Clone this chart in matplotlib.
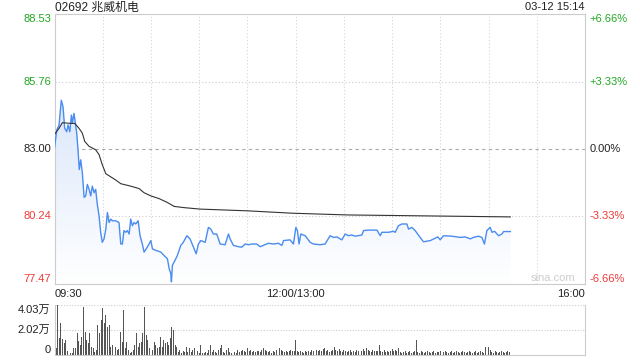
import numpy as np
import matplotlib
matplotlib.use('Agg')
import matplotlib.pyplot as plt
from matplotlib.colors import LinearSegmentedColormap

plt.rcParams['font.family'] = ['Liberation Sans', 'Noto Sans CJK SC']

title = '02692 兆威机电'
stamp = '03-12 15:14'
price_ticks = [77.47, 80.24, 83.00, 85.76, 88.53]
pct_labels = ['-6.66%', '-3.33%', '0.00%', '+3.33%', '+6.66%']
time_labels = ['09:30', '12:00/13:00', '16:00']
time_pos = [0, 150, 330]   # trading minutes from 09:30, lunch removed
vol_ticks = [0, 2.02, 4.03]
vol_labels = ['0', '2.02万', '4.03万']

# price line (minute, price)
price_t = [0, 1.4, 2.8, 4.2, 5.3, 6.3, 7.6, 8.4, 9.5, 10.5,
           11.1, 12.1, 12.8, 13.8, 14.6, 15.4, 16.3, 17.3, 18.4, 19.4,
           20.4, 21.5, 22.5, 23.5, 24.6, 25.6, 26.6, 27.7, 28.7, 29.7,
           30.8, 31.9, 32.9, 33.9, 35.0, 36.0, 38.1, 40.1, 41.2, 42.2,
           43.2, 44.3, 45.3, 46.4, 47.4, 48.4, 49.5, 50.5, 52.0, 53.2,
           54.6, 55.7, 57.7, 59.9, 60.9, 63.0, 66.1, 68.1, 70.2, 71.3,
           72.3, 72.7, 73.3, 74.4, 76.4, 78.5, 80.1, 82.3, 84.3, 86.4,
           88.1, 89.5, 91.0, 93.7, 95.7, 97.2, 98.8, 100.9, 103.0, 106.1,
           108.2, 109.2, 111.3, 114.4, 116.5, 118.5, 120.6, 122.7, 125.8, 127.9,
           133.0, 136.2, 139.3, 141.4, 142.4, 146.5, 148.6, 150.1, 151.1, 152.1,
           153.2, 155.9, 159.0, 161.0, 165.2, 168.3, 171.4, 173.5, 175.6, 178.7,
           180.8, 182.8, 184.9, 187.0, 191.2, 192.2, 195.3, 200.5, 202.6, 203.6,
           207.7, 210.8, 211.9, 213.9, 216.1, 219.2, 220.2, 222.3, 224.3, 227.4,
           229.5, 233.7, 236.8, 238.4, 239.9, 241.9, 247.2, 252.3, 255.4, 258.6,
           260.6, 263.7, 265.8, 267.4, 268.9, 271.0, 272.1, 273.7, 276.2, 278.3,
           279.3, 283.5]
price = [83.05, 83.78, 83.98, 85.00, 84.73, 83.85, 83.71, 83.99, 83.71, 84.39,
         84.06, 84.46, 84.12, 83.66, 82.97, 82.16, 82.56, 82.03, 81.02, 81.08,
         81.55, 81.35, 81.08, 81.48, 81.21, 81.35, 80.74, 80.26, 79.59, 79.18,
         79.32, 79.72, 80.40, 79.99, 80.13, 80.06, 80.06, 79.99, 79.11, 79.11,
         79.66, 79.59, 79.66, 79.52, 80.13, 79.86, 79.99, 79.93, 80.06, 79.45,
         79.11, 78.78, 78.98, 79.25, 78.91, 78.85, 78.78, 78.64, 78.51, 78.10,
         77.90, 77.56, 78.24, 78.37, 78.64, 79.05, 79.18, 79.45, 79.32, 78.98,
         78.71, 79.11, 79.25, 79.18, 79.79, 79.72, 79.52, 79.52, 79.11, 79.08,
         79.52, 79.32, 79.05, 79.00, 78.98, 79.11, 79.08, 79.11, 79.11, 79.00,
         79.14, 79.11, 79.14, 79.05, 79.25, 79.28, 79.11, 79.79, 79.66, 79.11,
         79.52, 79.45, 79.18, 79.11, 79.08, 79.11, 79.45, 79.38, 79.40, 79.28,
         79.52, 79.45, 79.48, 79.43, 79.48, 79.66, 79.68, 79.68, 79.45, 79.59,
         79.59, 79.63, 79.59, 79.86, 79.93, 79.93, 79.72, 79.79, 79.66, 79.38,
         79.20, 79.25, 79.35, 79.40, 79.28, 79.45, 79.43, 79.38, 79.40, 79.32,
         79.38, 79.43, 79.38, 79.11, 79.66, 79.79, 79.59, 79.63, 79.45, 79.52,
         79.62, 79.62]

# average price line
avg_t = [0, 2.8, 4.9, 10.1, 12.6, 15.2, 17.3, 18.8, 21.5, 25.6, 27.7, 29.7,
         31.9, 35.0, 38.1, 41.2, 47.4, 52.6, 55.7, 59.9, 65.0, 70.2, 74.4,
         80.6, 90.5, 119.6, 148.4, 182.6, 283.5]
avg_price = [83.60, 83.85, 84.08, 84.05, 84.05, 83.85, 83.65, 83.31, 83.11,
             82.97, 82.77, 82.36, 81.99, 81.86, 81.73, 81.58, 81.48, 81.38,
             81.21, 81.08, 80.97, 80.81, 80.65, 80.60, 80.54, 80.47, 80.37,
             80.30, 80.22]

# volume per minute, in 万
volume = [3.63, 0.54, 4.03, 1.34, 2.55, 1.26, 0.94, 1.21, 0.32, 0.27, 0.13, 0.19, 0.54, 0.54,
          1.75, 1.16, 0.81, 1.48, 3.84, 1.88, 1.21, 0.94, 1.75, 0.67, 0.54, 0.27, 0.40,
          2.42, 1.75, 2.82, 3.76, 2.55, 3.22, 2.28, 2.42, 0.67, 0.81, 1.75, 0.67, 0.40, 0.46,
          1.88, 1.07, 3.63, 0.54, 1.07, 0.40, 0.13, 0.27, 0.40, 0.81, 1.75, 0.67, 0.94, 1.07, 1.75,
          3.90, 1.61, 1.21, 0.54, 0.67, 0.40, 1.07, 0.81, 0.54, 0.67, 1.48, 0.67, 1.21, 0.94, 1.07,
          0.81, 1.34, 2.28, 2.02, 0.81, 0.67, 0.27, 0.40, 0.13, 0.32,
          0.27, 0.67, 0.27, 0.54, 0.27, 0.40, 0.54, 0.27, 0.32,
          0.19, 0.81, 0.19, 0.13, 0.27, 0.19, 0.40, 0.81, 0.27, 0.40, 0.27, 0.13, 0.40, 0.54,
          0.81, 0.27, 0.19, 0.40, 0.54, 0.27, 0.13, 1.21, 0.27, 0.13,
          0.40, 0.27, 0.35, 0.40, 0.32, 0.27, 0.54,
          0.32, 0.40, 0.27, 0.32, 0.27, 0.35, 0.32, 0.27, 0.40, 0.54,
          0.40, 0.32, 0.27, 0.32, 0.19, 0.32, 0.27, 0.40, 0.27, 0.54,
          0.40, 0.32, 0.27, 0.35, 0.27, 0.32, 0.40, 0.35, 0.32, 1.21,
          0.32, 0.27, 0.32, 0.27, 0.19, 0.32, 0.27, 0.32, 0.27,
          0.40, 0.32, 0.27, 0.40, 0.35, 0.40, 0.32, 0.46, 0.54,
          0.32, 0.40, 0.27, 0.32, 0.40, 0.67,
          0.40, 0.32, 0.46, 0.35, 0.27, 0.40, 0.32, 0.27, 0.35,
          0.40, 0.27, 0.32, 0.27, 0.40, 0.32, 0.27, 0.32,
          0.46, 0.35, 0.54,
          0.40, 0.32, 0.27, 0.40, 0.35, 0.32, 0.35, 0.81,
          0.32, 0.27, 0.40, 0.27, 0.32, 0.27, 0.35, 0.46, 0.32, 0.40, 0.32, 0.54,
          0.27, 0.19, 0.27, 0.32, 0.19, 0.27, 0.32, 0.19, 0.27, 0.32, 1.21,
          0.27, 0.19, 0.32, 0.27, 0.19, 0.27, 0.32, 0.27, 0.19, 0.27,
          0.32, 0.19, 0.27, 0.27, 0.32, 0.19, 0.27, 0.32, 0.27, 0.19,
          0.27, 0.32, 0.19, 0.27, 0.32, 0.27, 0.19, 0.27, 0.32, 0.27,
          0.19, 0.27, 0.32, 0.27, 0.19, 0.27, 0.32, 0.19, 0.27, 0.32,
          0.27, 0.19,
          0.67, 0.54, 0.67, 0.40,
          0.27, 0.19, 0.32, 0.27, 0.19, 0.27, 0.32, 0.27, 0.19, 0.27, 0.32, 0.27]

green = '#22a822'
red = '#ee3a3a'
dark = '#222222'
grid_c = '#cccccc'
label_colors = [red, red, dark, green, green]

fig = plt.figure(figsize=(6.4, 3.6), dpi=100)

# ---- price panel
ax = fig.add_axes([0.0852, 0.211, 0.829, 0.750])
ax.set_xlim(0, 330)
ax.set_ylim(price_ticks[0], price_ticks[-1])

# gradient fill under the price line
cmap = LinearSegmentedColormap.from_list('fade', ['#ffffff', '#dbe7fb'])
grad = np.linspace(0, 1, 256).reshape(-1, 1)
im = ax.imshow(grad, cmap=cmap, aspect='auto', origin='lower',
               extent=[0, max(price_t), price_ticks[0], max(price)], zorder=1)
poly = ax.fill_between(price_t, price, price_ticks[0], color='none', lw=0)
im.set_clip_path(poly.get_paths()[0], transform=ax.transData)

for y in [price_ticks[1], price_ticks[3]]:
    ax.axhline(y, color=grid_c, ls=(0, (1, 2)), lw=0.8, zorder=0)
ax.axhline(price_ticks[2], color='#aaaaaa', ls=(0, (3, 3)), lw=0.8, zorder=0)
for x in range(30, 330, 30):
    ax.axvline(x, color='#d4d4d4', ls=(0, (1, 2)), lw=0.8, zorder=0)

ax.plot(price_t, price, color='#4a8cf0', lw=1.0, zorder=3)
ax.plot(avg_t, avg_price, color='#333333', lw=0.8, zorder=3)

ax.set_xticks([])
ax.set_yticks([])
for s in ax.spines.values():
    s.set_color(grid_c)

ytr = ax.get_yaxis_transform()
for i, (v, c) in enumerate(zip(price_ticks, label_colors)):
    va = 'bottom' if i == 0 else ('top' if i == len(price_ticks) - 1 else 'center')
    ax.text(-0.006, v, f'{v:.2f}', color=c, ha='right', va=va, fontsize=8, transform=ytr)
    ax.text(1.008, v, pct_labels[i], color=c, ha='left', va=va, fontsize=8, transform=ytr)

xtr = ax.get_xaxis_transform()
for lab, pos, ha in zip(time_labels, time_pos, ['left', 'center', 'right']):
    ax.text(pos, -0.02, lab, ha=ha, va='top', fontsize=8, color=dark, transform=xtr)

ax.text(0.94, 0.005, 'sina.com', transform=ax.transAxes, ha='center', va='bottom',
        fontsize=8, color='#cccccc')

fig.text(0.0852, 1 - 7.5 / 360, title, ha='left', va='center', fontsize=8.6, color=dark)
fig.text(0.914, 1 - 7.5 / 360, stamp, ha='right', va='center', fontsize=8, color=dark)

# ---- volume panel
ax2 = fig.add_axes([0.0852, 0.0139, 0.829, 0.139])
ax2.set_xlim(0, 330)
ax2.set_ylim(0, vol_ticks[-1])
ax2.bar(np.arange(len(volume)), volume, width=0.6, color='#555555', zorder=2)
for y in vol_ticks[1:]:
    ax2.axhline(y, color=grid_c, ls=(0, (1, 1.5)), lw=0.8, zorder=0)
ax2.set_xticks([])
ax2.set_yticks([])
ax2.spines['top'].set_visible(False)
for s in ['left', 'right', 'bottom']:
    ax2.spines[s].set_color(grid_c)
ytr2 = ax2.get_yaxis_transform()
for v, lab, va in zip(vol_ticks, vol_labels, ['bottom', 'center', 'top']):
    ax2.text(-0.008, v, lab, ha='right', va=va, fontsize=8, color=dark, transform=ytr2)

fig.savefig('out.png', dpi=100)
